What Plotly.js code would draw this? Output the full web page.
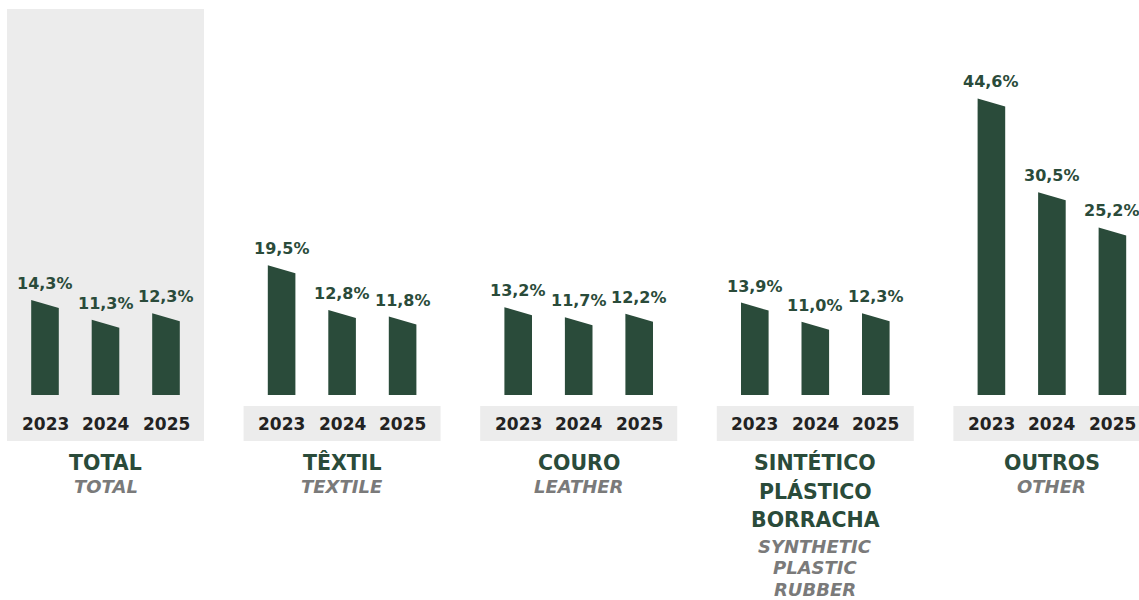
<!DOCTYPE html>
<html>
<head>
<meta charset="utf-8">
<script src="https://cdn.plot.ly/plotly-3.0.1.min.js"></script>
<style>
  html, body { margin: 0; padding: 0; background: #fff; }
  #chart { width: 1139px; height: 600px; }
</style>
</head>
<body>
<div id="chart"></div>
<script>
// data
const years = ['2023', '2024', '2025'];
const groupsPt = [['TOTAL'], ['TÊXTIL'], ['COURO'], ['SINTÉTICO', 'PLÁSTICO', 'BORRACHA'], ['OUTROS']];
const groupsEn = [['TOTAL'], ['TEXTILE'], ['LEATHER'], ['SYNTHETIC', 'PLASTIC', 'RUBBER'], ['OTHER']];
const total    = [14.3, 11.3, 12.3];
const textil   = [19.5, 12.8, 11.8];
const couro    = [13.2, 11.7, 12.2];
const sintetico = [13.9, 11.0, 12.3];
const outros   = [44.6, 30.5, 25.2];
const values = [total, textil, couro, sintetico, outros];

// look
const GREEN = '#2a4b3a';
const GREY_BG = '#ececec';
const FONT = 'DejaVu Sans, Liberation Sans, sans-serif';
const W = 1139, H = 600;
const GROUP_PX = 236.6;        // distance between groups
const BAR_STEP = 60.5 / GROUP_PX;
const HALF_W = 13.8 / GROUP_PX;
const X0_PX = 105.5;           // pixel centre of first group
const BASE_PX = 395;           // pixel of value 0
const PX_PER_UNIT = 6.65;
const SLANT = 8 / PX_PER_UNIT; // right corner lower than the left one

const py = px => 1 - px / H;   // pixel row -> paper y

const traces = [];
const annotations = [];
const shapes = [];

values.forEach((vals, gi) => {
  // grey panel: full for TOTAL, only the year strip for the others
  shapes.push({
    type: 'rect', layer: 'below', xref: 'x', yref: 'paper',
    x0: gi - 98.5 / GROUP_PX, x1: gi + 98.5 / GROUP_PX,
    y0: py(441), y1: gi === 0 ? py(9) : py(406),
    fillcolor: GREY_BG, line: { width: 0 }
  });

  vals.forEach((v, yi) => {
    const xc = gi + (yi - 1) * BAR_STEP;
    traces.push({
      type: 'scatter', mode: 'lines', fill: 'toself',
      x: [xc - HALF_W, xc - HALF_W, xc + HALF_W, xc + HALF_W, xc - HALF_W],
      y: [0, v, v - SLANT, 0, 0],
      fillcolor: GREEN, line: { width: 0, color: GREEN },
      hoverinfo: 'skip', showlegend: false
    });
    annotations.push({
      x: xc, y: v, xref: 'x', yref: 'y', yanchor: 'bottom', yshift: 5,
      text: '<b>' + v.toFixed(1).replace('.', ',') + '%</b>',
      showarrow: false, font: { family: FONT, size: 16, color: GREEN }
    });
    annotations.push({
      x: xc, y: py(424), xref: 'x', yref: 'paper', yanchor: 'middle',
      text: '<b>' + years[yi] + '</b>',
      showarrow: false, font: { family: FONT, size: 17, color: '#222222' }
    });
  });

  const pt = groupsPt[gi];
  pt.forEach((line, li) => {
    annotations.push({
      x: gi, y: py(463 + li * 28.5), xref: 'x', yref: 'paper', yanchor: 'middle',
      text: '<b>' + line + '</b>',
      showarrow: false, font: { family: FONT, size: 20.5, color: GREEN }
    });
  });
  const enStart = 463 + (pt.length - 1) * 28.5 + (pt.length > 1 ? 26 : 23);
  groupsEn[gi].forEach((line, li) => {
    annotations.push({
      x: gi, y: py(enStart + li * 21.5), xref: 'x', yref: 'paper', yanchor: 'middle',
      text: '<b><i>' + line + '</i></b>',
      showarrow: false, font: { family: FONT, size: 18, color: '#7a7a7a' }
    });
  });
});

const layout = {
  width: W, height: H,
  margin: { l: 0, r: 0, t: 0, b: 0 },
  paper_bgcolor: '#ffffff', plot_bgcolor: 'rgba(0,0,0,0)',
  xaxis: { range: [-X0_PX / GROUP_PX, (W - X0_PX) / GROUP_PX], visible: false, fixedrange: true },
  yaxis: { range: [-(H - BASE_PX) / PX_PER_UNIT, BASE_PX / PX_PER_UNIT], visible: false, fixedrange: true },
  shapes: shapes,
  annotations: annotations,
  showlegend: false
};

Plotly.newPlot('chart', traces, layout, { displayModeBar: false, staticPlot: true });
</script>
</body>
</html>
